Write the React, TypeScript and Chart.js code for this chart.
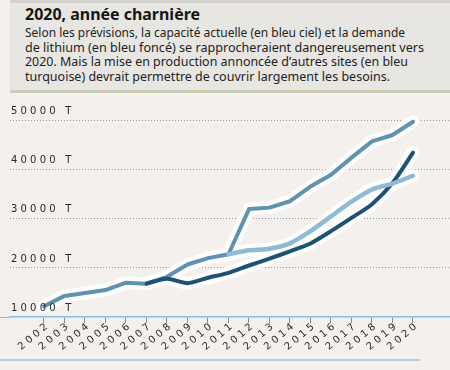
import React, { useEffect, useLayoutEffect, useRef } from "react";
import { Chart, registerables } from "chart.js";

Chart.register(...registerables);

// ---- data ----
const years = [2002, 2003, 2004, 2005, 2006, 2007, 2008, 2009, 2010, 2011, 2012, 2013, 2014, 2015, 2016, 2017, 2018, 2019, 2020];
// capacité totale avec les nouveaux sites (bleu turquoise)
const capaciteAvecSites = [12200, 14300, 14900, 15500, 17000, 16800, 18200, 20700, 22000, 22800, 32000, 32300, 33600, 36600, 39000, 42500, 45800, 47100, 49800];
// demande de lithium (bleu foncé)
const demande = [null, null, null, null, null, 16800, 17800, 16900, 18000, 19000, 20500, 21900, 23400, 25000, 27500, 30200, 33000, 37300, 43500];
// capacité actuelle (bleu ciel)
const capaciteActuelle = [null, null, null, null, null, null, null, null, null, 22800, 23600, 23900, 25000, 27500, 30500, 33500, 36000, 37200, 38800];
const yTicks = [10000, 20000, 30000, 40000, 50000];

const title = "2020, année charnière";
const bodyLines = [
  "Selon les prévisions, la capacité actuelle (en bleu ciel) et la demande",
  "de lithium (en bleu foncé) se rapprocheraient dangereusement vers",
  "2020. Mais la mise en production annoncée d’autres sites (en bleu",
  "turquoise) devrait permettre de couvrir largement les besoins.",
];
// target text widths (px) in the layout
const titleWidth = 175;
const bodyWidths = [380, 399, 383, 365];

const toPts = (vals: (number | null)[]) => years.map((x, i) => ({ x, y: vals[i] }));

const spacingPlugin = {
  id: "letterSpacing",
  beforeDraw(chart: any) {
    chart.ctx.letterSpacing = "3.2px";
  },
  afterDraw(chart: any) {
    chart.ctx.letterSpacing = "0px";
  },
};

function fitWidth(el: HTMLElement | null, w: number) {
  if (!el) return;
  el.style.transform = "none";
  const r = el.getBoundingClientRect().width;
  if (r > 0) el.style.transform = `scaleX(${w / r})`;
}

export default function App() {
  const ref = useRef<HTMLCanvasElement | null>(null);
  const titleRef = useRef<HTMLSpanElement | null>(null);
  const lineRefs = useRef<(HTMLSpanElement | null)[]>([]);

  useLayoutEffect(() => {
    const fitAll = () => {
      fitWidth(titleRef.current, titleWidth);
      lineRefs.current.forEach((el, i) => fitWidth(el, bodyWidths[i]));
    };
    fitAll();
    if ((document as any).fonts && (document as any).fonts.ready) (document as any).fonts.ready.then(fitAll);
  }, []);

  useEffect(() => {
    if (!ref.current) return;
    const line = (label: string, data: any, color: string, width: number, tension: number) => ({
      label,
      data,
      borderColor: color,
      backgroundColor: color,
      borderWidth: width,
      pointRadius: 0,
      tension,
      borderCapStyle: "round",
      borderJoinStyle: "round",
      fill: false,
      spanGaps: false,
    });
    const halo = "rgba(255,255,255,0.85)";
    const chart = new Chart(ref.current, {
      type: "line",
      data: {
        datasets: [
          line("Capacité actuelle", toPts(capaciteActuelle), "#8fbad4", 4.5, 0.25),
          line("Demande", toPts(demande), "#1c5273", 4, 0.25),
          line("Capacité avec autres sites", toPts(capaciteAvecSites), "#5f92b1", 4, 0),
          line("h1", toPts(capaciteActuelle), halo, 13, 0.25),
          line("h2", toPts(demande), halo, 13, 0.25),
          line("h3", toPts(capaciteAvecSites), halo, 13, 0),
        ] as any,
      },
      options: {
        animation: false,
        responsive: false,
        devicePixelRatio: 1,
        layout: { padding: { left: 10, top: 111, right: 0, bottom: 0 } },
        plugins: { legend: { display: false }, tooltip: { enabled: false }, title: { display: false } },
        scales: {
          x: {
            type: "linear",
            min: 2000.3415,
            max: 2021.8049,
            afterBuildTicks: (axis: any) => {
              axis.ticks = years.map((v) => ({ value: v }));
            },
            afterFit: (axis: any) => {
              axis.height = 53;
            },
            grid: { display: true, drawOnChartArea: false, drawTicks: true, tickLength: 6, color: "#8a8a8a", lineWidth: 1 },
            border: { display: true, color: "#86bfe2", width: 1.5 },
            ticks: {
              autoSkip: false,
              maxRotation: 40,
              minRotation: 40,
              padding: -4,
              labelOffset: 5,
              color: "#2a2a2a",
              font: { family: "DejaVu Sans", size: 10 },
              callback: (v: any) => String(v),
            },
          },
          y: {
            type: "linear",
            min: 10000,
            max: 52000,
            afterBuildTicks: (axis: any) => {
              axis.ticks = yTicks.map((v) => ({ value: v }));
            },
            afterFit: (axis: any) => {
              axis.width = 0;
            },
            grid: {
              drawTicks: false,
              z: -1,
              color: (c: any) => (c.tick && c.tick.value === 10000 ? "rgba(0,0,0,0)" : "#9a9a9a"),
              lineWidth: 1,
            },
            border: { display: false, dash: [1, 2] },
            ticks: {
              z: 1,
              mirror: true,
              padding: 1,
              labelOffset: -9,
              color: "#2a2a2a",
              font: { family: "DejaVu Sans", size: 10 },
              callback: (v: any) => `${v} T`,
            },
          },
        },
      } as any,
      plugins: [spacingPlugin],
    });
    return () => chart.destroy();
  }, []);

  const textBase: React.CSSProperties = {
    display: "inline-block",
    whiteSpace: "nowrap",
    transformOrigin: "0 0",
    fontFamily: "'Noto Sans', sans-serif",
  };

  return (
    <div style={{ position: "fixed", left: 0, top: 0, width: 450, height: 370, background: "#f3f0ee", overflow: "hidden" }}>
      <canvas ref={ref} width={450} height={370} style={{ position: "absolute", left: 0, top: 0, width: 450, height: 370 }} />
      <div style={{ position: "absolute", left: 0, top: 316.5, width: 10, height: 1.5, background: "#86bfe2" }} />
      <div style={{ position: "absolute", left: 10, top: 0, width: 440, height: 87, background: "#e8e6e3", borderTop: "3px solid #d6d3cf", borderBottom: "3px solid #c9cdb2" }} />
      <div style={{ position: "absolute", left: 25, top: 5, width: 420, lineHeight: "19px" }}>
        <span ref={titleRef} style={{ ...textBase, fontWeight: 700, fontSize: 16, color: "#161616" }}>
          {title}
        </span>
      </div>
      <div style={{ position: "absolute", left: 25, top: 25, width: 425 }}>
        {bodyLines.map((l, i) => (
          <div key={i} style={{ height: 14.7, lineHeight: "14.7px" }}>
            <span
              ref={(el) => {
                lineRefs.current[i] = el;
              }}
              style={{ ...textBase, fontSize: 13, color: "#222" }}
            >
              {l}
            </span>
          </div>
        ))}
      </div>
      <div style={{ position: "absolute", left: 0, top: 359, width: 420, height: 1.5, background: "#a9d0e8" }} />
    </div>
  );
}
